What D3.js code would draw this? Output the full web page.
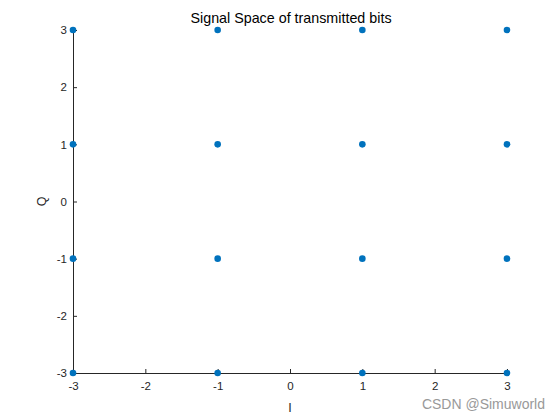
<!DOCTYPE html>
<html><head><meta charset="utf-8">
<script src="https://cdn.jsdelivr.net/npm/d3@7"></script>
<style>body{margin:0;background:#fff}svg{display:block}</style>
</head><body>
<script>
const iValues = [-3, -3, -3, -3, -1, -1, -1, -1, 1, 1, 1, 1, 3, 3, 3, 3];
const qValues = [-3, -1, 1, 3, -3, -1, 1, 3, -3, -1, 1, 3, -3, -1, 1, 3];
const xTicks = [-3, -2, -1, 0, 1, 2, 3];
const yTicks = [-3, -2, -1, 0, 1, 2, 3];
const title = "Signal Space of transmitted bits";

const W = 560, H = 420;
const svg = d3.select("body").append("svg").attr("width", W).attr("height", H);
const x = d3.scaleLinear().domain([-3, 3]).range([73, 507]);
const y = d3.scaleLinear().domain([-3, 3]).range([373, 30]);
const font = "Arial, 'Liberation Sans', sans-serif";
const fmt = d => String(d);

const gx = svg.append("g").attr("transform", `translate(0,${y(-3)})`)
  .call(d3.axisBottom(x).tickValues(xTicks).tickFormat(fmt).tickSize(-4).tickPadding(9).tickSizeOuter(0));
const gy = svg.append("g").attr("transform", `translate(${x(-3)},0)`)
  .call(d3.axisLeft(y).tickValues(yTicks).tickFormat(fmt).tickSize(-4).tickPadding(6).tickSizeOuter(0));
[gx, gy].forEach(g => {
  g.select(".domain").attr("stroke", "#262626");
  g.selectAll(".tick line").attr("stroke", "#262626");
  g.selectAll("text").attr("fill", "#262626").style("font-family", font).style("font-size", "11.5px");
});

svg.append("text").attr("x", 291).attr("y", 23).attr("text-anchor", "middle")
  .style("font-family", font).style("font-size", "14.3px").attr("fill", "#000").text(title);
svg.append("text").attr("x", 290).attr("y", 412).attr("text-anchor", "middle")
  .style("font-family", font).style("font-size", "12.5px").attr("fill", "#262626").text("I");
svg.append("text").attr("transform", `translate(46,${y(0)}) rotate(-90)`).attr("text-anchor", "middle")
  .style("font-family", font).style("font-size", "12.5px").attr("fill", "#262626").text("Q");

svg.append("g").selectAll("circle").data(iValues).join("circle")
  .attr("cx", d => x(d)).attr("cy", (d, i) => y(qValues[i])).attr("r", 3.3)
  .attr("fill", "#0072BD");

svg.append("text").attr("x", 545).attr("y", 409).attr("text-anchor", "end")
  .style("font-family", font).style("font-size", "14px").attr("fill", "#999").text("CSDN @Simuworld");
</script>
</body></html>
